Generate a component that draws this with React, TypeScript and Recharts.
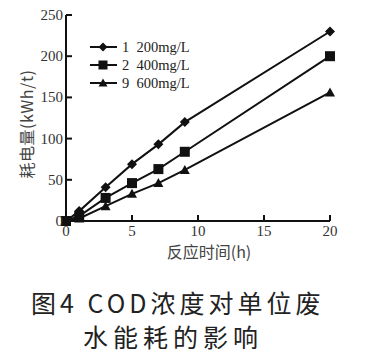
import React from 'react';
import { LineChart, Line, XAxis, YAxis } from 'recharts';

const times = [0, 1, 3, 5, 7, 9, 20];
const series200 = [0, 12, 41, 69, 93, 120, 230];
const series400 = [0, 6, 28, 46, 63, 84, 200];
const series600 = [0, 3, 18, 33, 46, 62, 156];
const seriesNames = ['1\u2002200mg/L', '2\u2002400mg/L', '9\u2002600mg/L'];
const xTicks = [0, 5, 10, 15, 20];
const yTicks = [0, 50, 100, 150, 200, 250];

const data = times.map((t, i) => ({ t, a: series200[i], b: series400[i], c: series600[i] }));

const INK = '#111';

const Diamond = ({ cx, cy, s = 5 }: any) => (
  <path d={`M${cx},${cy - s}L${cx + s},${cy}L${cx},${cy + s}L${cx - s},${cy}Z`} fill={INK} />
);
const Square = ({ cx, cy, s = 5 }: any) => (
  <rect x={cx - s} y={cy - s} width={2 * s} height={2 * s} fill={INK} />
);
const Tri = ({ cx, cy, s = 5 }: any) => (
  <path d={`M${cx},${cy - s}L${cx + s},${cy + s * 0.8}L${cx - s},${cy + s * 0.8}Z`} fill={INK} />
);

const markers = [Diamond, Square, Tri];

const XTick = (props: any) => {
  const { x, y, payload } = props;
  return (
    <g>
      <line x1={x} y1={y} x2={x} y2={y - 6} stroke={INK} strokeWidth={2} />
      <text x={x} y={y + 15} textAnchor="middle" fontFamily="Liberation Serif" fontSize={15} fill="#333">
        {payload.value}
      </text>
    </g>
  );
};

const YTick = (props: any) => {
  const { x, y, payload } = props;
  return (
    <g>
      <line x1={x} y1={y} x2={x + 6} y2={y} stroke={INK} strokeWidth={2} />
      <text x={x - 3} y={y + 5} textAnchor="end" fontFamily="Liberation Serif" fontSize={15} fill="#333">
        {payload.value}
      </text>
    </g>
  );
};

export default function App() {
  return (
    <div style={{ position: 'absolute', left: 0, top: 0, width: 368, height: 357, background: '#fff' }}>
      <LineChart width={368} height={265} data={data} margin={{ top: 15, right: 38, left: 0, bottom: 5 }}>
        <XAxis
          dataKey="t"
          type="number"
          domain={[0, 20]}
          ticks={xTicks}
          height={39}
          stroke={INK}
          strokeWidth={2}
          tickLine={false}
          tickSize={0}
          tickMargin={0}
          tick={<XTick />}
          label={{
            content: () => (
              <text x={209} y={258} textAnchor="middle" fontFamily="Noto Sans CJK SC" fontSize={16} fill="#444">
                反应时间(h)
              </text>
            ),
          }}
        />
        <YAxis
          type="number"
          domain={[0, 250]}
          ticks={yTicks}
          width={66}
          stroke={INK}
          strokeWidth={2}
          tickLine={false}
          tickSize={0}
          tickMargin={0}
          tick={<YTick />}
          label={{
            content: () => (
              <text
                x={26}
                y={124}
                transform="rotate(-90,26,124)"
                textAnchor="middle"
                dominantBaseline="central"
                fontFamily="Noto Sans CJK SC"
                fontSize={16}
                letterSpacing={0.5}
                fill="#444"
              >
                耗电量(kWh/t)
              </text>
            ),
          }}
        />
        {(['a', 'b', 'c'] as const).map((k, i) => {
          const M = markers[i];
          return (
            <Line
              key={k}
              dataKey={k}
              stroke={INK}
              strokeWidth={2}
              isAnimationActive={false}
              dot={(p: any) => <M key={`${k}-${p.index}`} cx={p.cx} cy={p.cy} />}
              activeDot={false}
            />
          );
        })}
      </LineChart>
      <svg style={{ position: 'absolute', left: 0, top: 0 }} width={368} height={260}>
        {seriesNames.map((name, i) => {
          const M = markers[i];
          const y = 47 + i * 18;
          return (
            <g key={name}>
              <line x1={90} y1={y} x2={117} y2={y} stroke={INK} strokeWidth={2} />
              <M cx={103} cy={y} s={4.5} />
              <text x={122} y={y + 5} fontFamily="Liberation Serif" fontSize={14.5} fill="#222" style={{ whiteSpace: 'pre' }}>
                {name}
              </text>
            </g>
          );
        })}
      </svg>
      <div
        style={{
          position: 'absolute',
          left: 31,
          top: 285,
          fontFamily: 'Noto Sans CJK SC',
          fontSize: 25,
          letterSpacing: 4,
          color: '#222',
          lineHeight: '34px',
          whiteSpace: 'nowrap',
        }}
      >
        图4 COD浓度对单位废
      </div>
      <div
        style={{
          position: 'absolute',
          left: 83,
          top: 319,
          fontFamily: 'Noto Sans CJK SC',
          fontSize: 25,
          letterSpacing: 5,
          color: '#222',
          lineHeight: '34px',
          whiteSpace: 'nowrap',
        }}
      >
        水能耗的影响
      </div>
    </div>
  );
}
